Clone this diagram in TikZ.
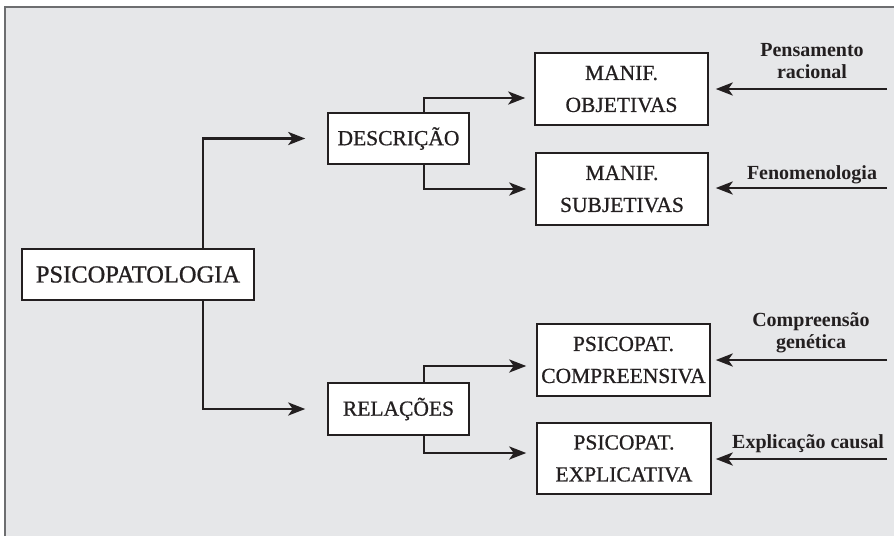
\documentclass[tikz,border=0pt]{standalone}
\usepackage{fontspec}
\setmainfont{Liberation Serif}
\newfontfamily\boxfont{Liberation Serif}[FakeBold=0.8]
\usetikzlibrary{arrows.meta}
\definecolor{bggray}{HTML}{E6E7E9}
\definecolor{ink}{HTML}{231F20}
\definecolor{framegray}{HTML}{6D6E70}
\tikzset{
  box/.style={draw=ink, line width=1.5pt, fill=white, text=ink, inner sep=0pt, align=center,
    font=\boxfont\fontsize{21.5}{32}\selectfont},
  lbl/.style={text=ink, inner sep=0pt, align=center, font=\fontsize{20}{22}\selectfont\bfseries},
  conn/.style={draw=ink, line width=2.8pt, -{Stealth[length=17pt,width=13pt,inset=4.5pt]}}
}
\begin{document}
\begin{tikzpicture}[x=1pt,y=-1pt]
\useasboundingbox (0,0) rectangle (894,536);
\fill[bggray] (5,7) rectangle (894,536);
\draw[framegray, line width=1.5pt] (5,536) -- (5,7) -- (894,7);

% boxes
\node[box, minimum width=232pt, minimum height=51pt, font=\boxfont\fontsize{24.5}{28}\selectfont] (psico) at (138,274.5) {PSICOPATOLOGIA};
\node[box, minimum width=141pt, minimum height=51pt] (desc) at (398.5,138.5) {DESCRIÇÃO};
\node[box, minimum width=141pt, minimum height=52pt] (rel) at (398.5,409) {RELAÇÕES};
\node[box, minimum width=173pt, minimum height=72pt] (mobj) at (621.5,89) {MANIF.\\OBJETIVAS};
\node[box, minimum width=172pt, minimum height=72pt] (msub) at (622,189) {MANIF.\\SUBJETIVAS};
\node[box, minimum width=173pt, minimum height=72pt] (pcomp) at (623.5,360) {PSICOPAT.\\COMPREENSIVA};
\node[box, minimum width=174pt, minimum height=71pt] (pexp) at (624,458.5) {PSICOPAT.\\EXPLICATIVA};

% left branches
\draw[conn] (psico.north -| 203,0) |- ([xshift=-22pt]desc.west);
\draw[conn] (psico.south -| 203,0) |- ([xshift=-22pt]rel.west);

% middle branches
\draw[conn] (desc.north -| 424,0) |- ([xshift=-9pt,yshift=-9pt]mobj.west);
\draw[conn] (desc.south -| 424,0) |- ([xshift=-9pt]msub.west);
\draw[conn] (rel.north -| 424,0) |- ([xshift=-10pt,yshift=-6pt]pcomp.west);
\draw[conn] (rel.south -| 424,0) |- ([xshift=-10pt,yshift=5.5pt]pexp.west);

% right inputs
\coordinate (r1) at (887,89);
\coordinate (r2) at (887,188);
\coordinate (r3) at (887,360);
\coordinate (r4) at (887,459);
\draw[conn] (r1) -- ([xshift=7pt]mobj.east |- r1);
\draw[conn] (r2) -- ([xshift=7pt]msub.east |- r2);
\draw[conn] (r3) -- ([xshift=5pt]pcomp.east |- r3);
\draw[conn] (r4) -- ([xshift=4pt]pexp.east |- r4);

\node[lbl, anchor=base] (l1) at (812,78) {Pensamento\\racional};
\node[lbl, anchor=base] (l2) at (812,179) {Fenomenologia};
\node[lbl, anchor=base] (l3) at (811,348) {Compreensão\\genética};
\node[lbl, anchor=base] (l4) at (808,448) {Explicação causal};
\end{tikzpicture}
\end{document}
